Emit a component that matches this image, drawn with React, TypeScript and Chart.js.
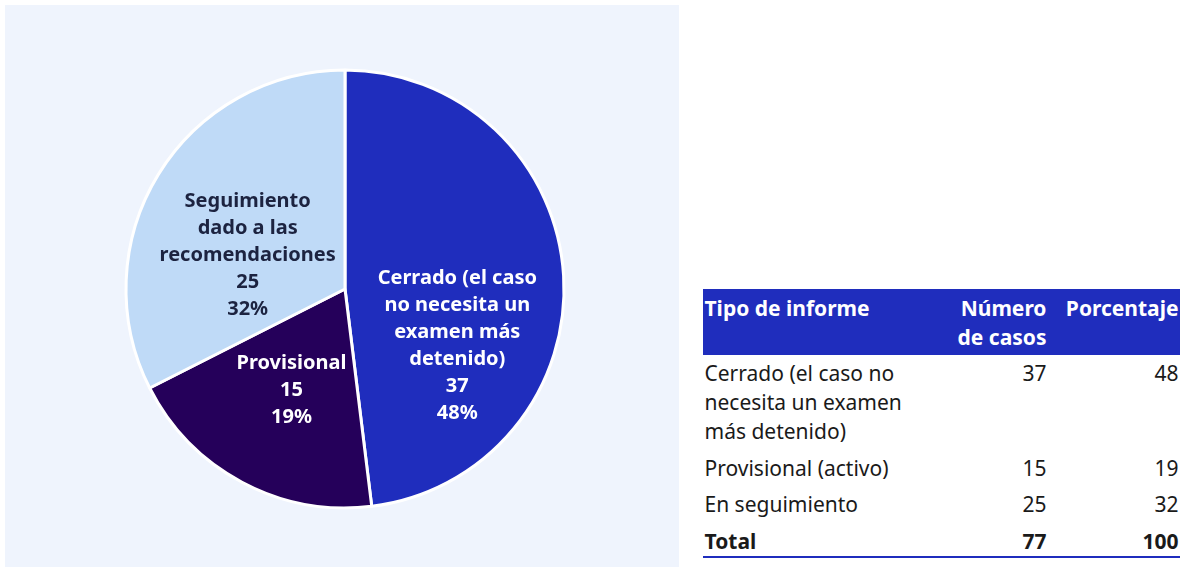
import React, { useEffect, useRef } from "react";
import { Chart, registerables } from "chart.js";

Chart.register(...registerables);

// ---- data ----
const categories = ["Cerrado", "Provisional", "Seguimiento"];
const sliceLabelLines = [
  ["Cerrado (el caso", "no necesita un", "examen más", "detenido)"],
  ["Provisional"],
  ["Seguimiento", "dado a las", "recomendaciones"],
];
const caseCounts = [37, 15, 25];
const percentages = [48, 19, 32];

const tableHeaders = ["Tipo de informe", "Número\nde casos", "Porcentaje"];
const tableRowLabels = [
  "Cerrado (el caso no\nnecesita un examen\nmás detenido)",
  "Provisional (activo)",
  "En seguimiento",
];
const tableCounts = [37, 15, 25];
const tablePercents = [48, 19, 32];
const totalLabel = "Total";
const totalCount = 77;
const totalPercent = 100;

// ---- styles ----
const sliceColors = ["#1f2dbd", "#25005a", "#bfdaf7"];
const labelColors = ["#ffffff", "#ffffff", "#1c2340"];
const labelAdjust = [
  [3, 63],
  [-2, 5],
  [-4, 24],
];
const PANEL_BG = "#eff4fd";
const HEADER_BG = "#1f2dbd";

const labelPlugin = {
  id: "sliceLabels",
  afterDatasetsDraw(chart: any) {
    const meta = chart.getDatasetMeta(0);
    const ctx = chart.ctx;
    ctx.save();
    ctx.font = "bold 20px 'Noto Sans'";
    ctx.textAlign = "center";
    ctx.textBaseline = "middle";
    const lh = 27;
    meta.data.forEach((arc: any, i: number) => {
      const pos = arc.tooltipPosition();
      const lines = [
        ...sliceLabelLines[i],
        String(caseCounts[i]),
        percentages[i] + "%",
      ];
      const cx = pos.x + labelAdjust[i][0];
      const cy = pos.y + labelAdjust[i][1];
      const top = cy - ((lines.length - 1) * lh) / 2;
      ctx.fillStyle = labelColors[i];
      lines.forEach((t, j) => ctx.fillText(t, cx, top + j * lh));
    });
    ctx.restore();
  },
};

function PieChart() {
  const ref = useRef<HTMLCanvasElement | null>(null);
  useEffect(() => {
    if (!ref.current) return;
    const chart = new Chart(ref.current, {
      type: "pie",
      data: {
        labels: categories,
        datasets: [
          {
            data: caseCounts,
            backgroundColor: sliceColors,
            borderColor: "#ffffff",
            borderWidth: 3,
            hoverBorderWidth: 3,
          },
        ],
      },
      options: {
        animation: false,
        responsive: false,
        radius: 219,
        layout: { padding: { left: 6, top: 6, right: 0, bottom: 0 } },
        plugins: {
          legend: { display: false },
          tooltip: { enabled: false },
        },
      } as any,
      plugins: [labelPlugin],
    });
    return () => chart.destroy();
  }, []);
  return <canvas ref={ref} width={674} height={562} style={{ display: "block" }} />;
}

const cellBase: React.CSSProperties = {
  padding: "4.5px 1.5px 3px 1.5px",
  verticalAlign: "top",
  whiteSpace: "pre-line",
};

export default function App() {
  return (
    <div style={{ fontFamily: "'Noto Sans', sans-serif" }}>
      <div
        style={{
          position: "absolute",
          left: 5,
          top: 5,
          width: 674,
          height: 562,
          background: PANEL_BG,
        }}
      >
        <PieChart />
      </div>
      <table
        style={{
          position: "absolute",
          left: 703,
          top: 289,
          width: 477,
          tableLayout: "fixed",
          borderCollapse: "collapse",
          fontSize: 21,
          lineHeight: "29px",
          color: "#1a1a1a",
        }}
      >
        <colgroup>
          <col style={{ width: 235 }} />
          <col style={{ width: 110 }} />
          <col style={{ width: 132 }} />
        </colgroup>
        <thead>
          <tr style={{ background: HEADER_BG, color: "#fff", fontWeight: 700 }}>
            {tableHeaders.map((h, i) => (
              <th key={i} style={{ ...cellBase, textAlign: i === 0 ? "left" : "right", fontWeight: 700 }}>
                {h}
              </th>
            ))}
          </tr>
        </thead>
        <tbody>
          {tableRowLabels.map((r, i) => (
            <tr key={i}>
              <td style={{ ...cellBase, textAlign: "left" }}>{r}</td>
              <td style={{ ...cellBase, textAlign: "right" }}>{tableCounts[i]}</td>
              <td style={{ ...cellBase, textAlign: "right" }}>{tablePercents[i]}</td>
            </tr>
          ))}
          <tr style={{ fontWeight: 700, borderBottom: `2px solid ${HEADER_BG}` }}>
            <td style={{ ...cellBase, paddingBottom: 0, textAlign: "left" }}>{totalLabel}</td>
            <td style={{ ...cellBase, paddingBottom: 0, textAlign: "right" }}>{totalCount}</td>
            <td style={{ ...cellBase, paddingBottom: 0, textAlign: "right" }}>{totalPercent}</td>
          </tr>
        </tbody>
      </table>
    </div>
  );
}
